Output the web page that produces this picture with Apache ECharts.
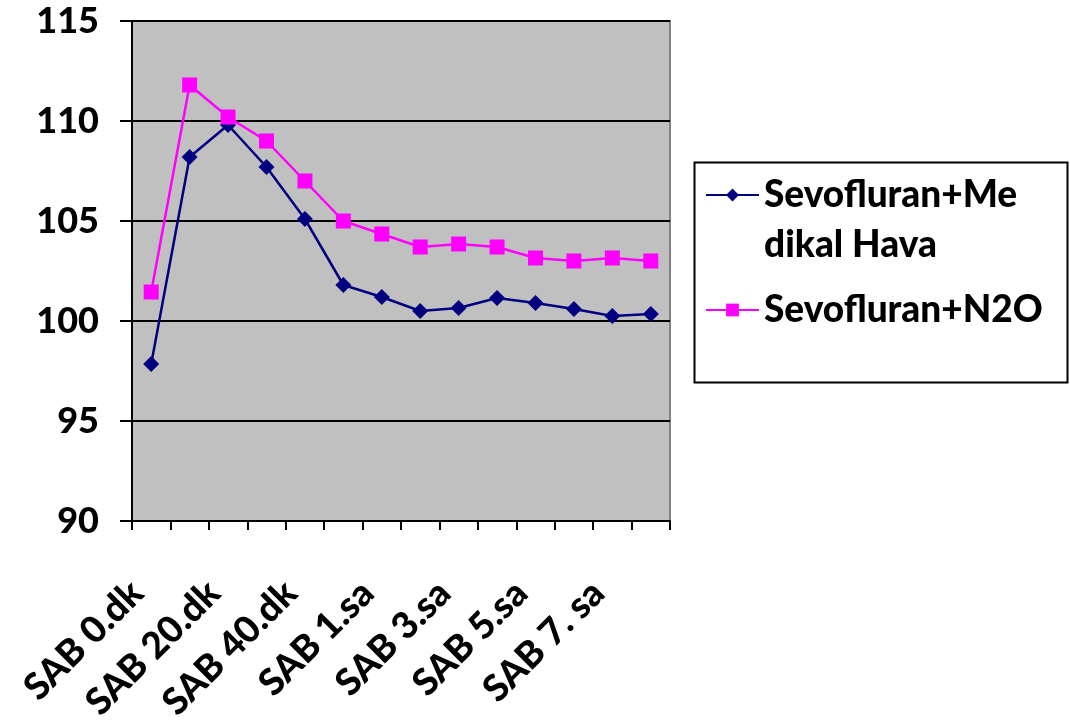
<!DOCTYPE html>
<html>
<head>
<meta charset="utf-8">
<script src="https://cdn.jsdelivr.net/npm/echarts@6/dist/echarts.min.js"></script>
<style>
html,body{margin:0;padding:0;background:#fff;}
#chart{width:1070px;height:720px;}
</style>
</head>
<body>
<div id="chart"></div>
<script>
const categories = ['SAB 0.dk','SAB 10.dk','SAB 20.dk','SAB 30.dk','SAB 40.dk','SAB 50.dk','SAB 1.sa','SAB 2.sa','SAB 3.sa','SAB 4.sa','SAB 5.sa','SAB 6.sa','SAB 7. sa','SAB 8.sa'];
const seriesNames = ['Sevofluran+Medikal Hava','Sevofluran+N2O'];
const legendLabels = ['\nSevofluran+Me\ndikal Hava','Sevofluran+N2O'];
const medikalHava = [97.85,108.2,109.8,107.7,105.1,101.8,101.2,100.5,100.65,101.15,100.9,100.6,100.25,100.35];
const n2o = [101.45,111.8,110.2,109.0,107.0,105.0,104.35,103.7,103.85,103.7,103.15,103.0,103.15,103.0];
const yTicks = {min:90,max:115,interval:5};

const FONT = 'Lato';
const chart = echarts.init(document.getElementById('chart'));
chart.setOption({
  animation:false,
  backgroundColor:'#ffffff',
  textStyle:{fontFamily:FONT},
  grid:{left:132,top:21,right:400,bottom:199,containLabel:false,outerBoundsMode:'none',show:true,backgroundColor:'#c0c0c0',borderColor:'#808080',borderWidth:2},
  xAxis:{
    type:'category',data:categories,boundaryGap:true,
    axisLine:{lineStyle:{color:'#000',width:2}},
    axisTick:{show:true,length:9,lineStyle:{color:'#000',width:2},interval:0},
    axisLabel:{interval:1,rotate:45,fontFamily:FONT,fontWeight:900,fontSize:37,color:'#000',margin:52,padding:[0,20,0,0]},
    splitLine:{show:false}
  },
  yAxis:{
    type:'value',min:yTicks.min,max:yTicks.max,interval:yTicks.interval,
    axisLine:{show:true,lineStyle:{color:'#000',width:2}},
    axisTick:{show:true,length:12,lineStyle:{color:'#000',width:2}},
    axisLabel:{fontFamily:FONT,fontWeight:900,fontSize:36,color:'#000',margin:33},
    splitLine:{show:true,lineStyle:{color:'#000',width:2}}
  },
  legend:{
    orient:'vertical',left:700,top:115,
    itemWidth:53,itemHeight:16,itemGap:15,
    data:seriesNames,
    formatter:function(name){return legendLabels[seriesNames.indexOf(name)];},
    textStyle:{fontFamily:FONT,fontWeight:900,fontSize:37,color:'#000',lineHeight:50}
  },
  graphic:[{type:'rect',left:692,top:160,shape:{width:373,height:220},style:{fill:'none',stroke:'#000',lineWidth:2},z:-1}],
  series:[
    {name:seriesNames[0],type:'line',data:medikalHava,symbol:'diamond',symbolSize:16,
     itemStyle:{color:'#000080'},lineStyle:{color:'#000080',width:2.5}},
    {name:seriesNames[1],type:'line',data:n2o,symbol:'rect',symbolSize:15,
     itemStyle:{color:'#ff00ff'},lineStyle:{color:'#ff00ff',width:2.5}}
  ]
});
</script>
</body>
</html>
